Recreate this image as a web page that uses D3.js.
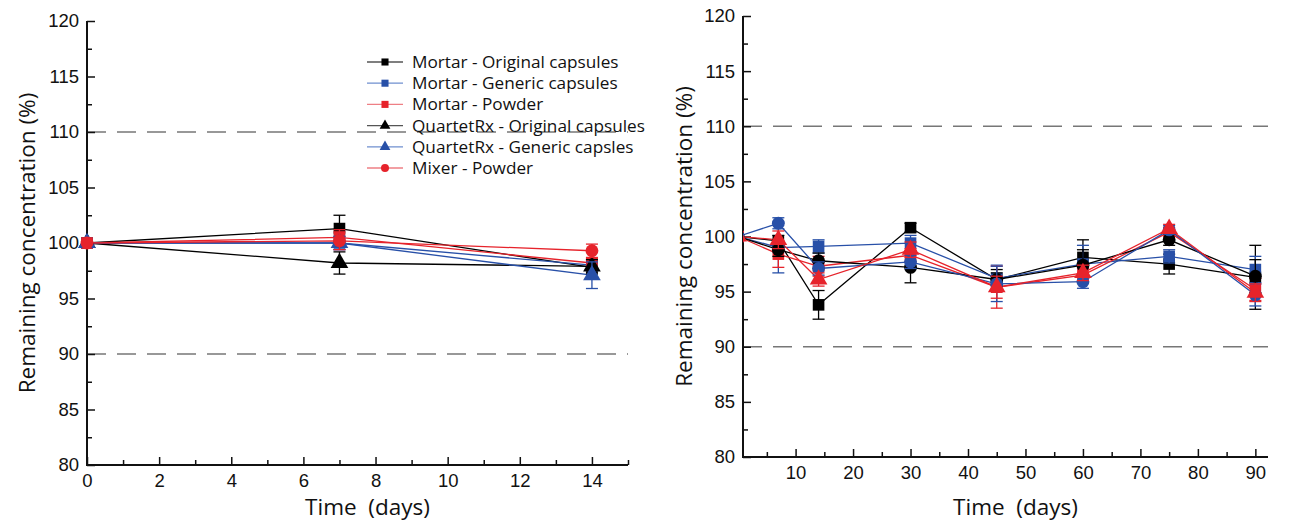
<!DOCTYPE html>
<html>
<head>
<meta charset="utf-8">
<script src="https://cdn.jsdelivr.net/npm/d3@7"></script>
<style>
  body { margin: 0; background: #fff; }
  svg { font-family: "Open Sans", "Noto Sans", sans-serif; }
  .tick text { font-size: 18.5px; fill: #111; }
  .axis-title { font-size: 22.5px; fill: #111; }
  .legend text { font-size: 17.2px; fill: #111; }
</style>
</head>
<body>
<svg id="chart" width="1292" height="525"></svg>
<script>
/* stability data, two panels */
const seriesNames = ['Mortar - Original capsules', 'Mortar - Generic capsules', 'Mortar - Powder',
                     'QuartetRx - Original capsules', 'QuartetRx - Generic capsles', 'Mixer - Powder'];
const colors = ['#000000', '#2850a8', '#e6232b', '#000000', '#2850a8', '#e6232b'];
const legendLine = ['#555555', '#6f8fcf', '#ee7f85', '#555555', '#6f8fcf', '#ee7f85'];

// left panel: 14 days
const daysA = [0, 7, 14];
const leftShapes = ['square', 'square', 'square', 'triangle', 'triangle', 'circle'];
const leftValues = [
    [100, 101.3, 97.8],
    [100, 100.0, 98.0],
    [100, 100.5, 98.2],
    [100, 98.2, 97.9],
    [100, 100.0, 97.1],
    [100, 100.2, 99.3]
];
const leftErr = [
    [0, 1.2, 0.6],
    [0, 0.6, 0.5],
    [0, 0.7, 0.4],
    [0, 1.0, 0.6],
    [0, 0.6, 1.2],
    [0, 0.8, 0.6]
];

// right panel: 90 days
const daysB = [0, 7, 14, 30, 45, 60, 75, 90];
const rightShapes = ['square', 'square', 'square', 'circle', 'circle', 'triangle'];
const rightValues = [
    [100, 99.6, 93.8, 100.8, 96.1, 98.1, 97.5, 96.3],
    [100, 99.0, 99.1, 99.4, 96.2, 97.5, 98.2, 97.0],
    [100, 98.4, 97.3, 98.3, 95.4, 96.5, 100.4, 95.2],
    [100, 98.8, 97.8, 97.2, 96.1, 97.4, 99.7, 96.4],
    [100, 101.2, 97.1, 97.7, 95.7, 95.9, 100.6, 94.7],
    [100, 99.7, 96.1, 98.8, 95.4, 96.7, 100.7, 94.9]
];
const rightErr = [
    [0, 0.5, 1.3, 0.4, 0.9, 1.6, 0.9, 2.9],
    [0, 2.3, 0.6, 0.7, 1.2, 1.7, 0.6, 1.2],
    [0, 1.2, 0.9, 0.6, 1.9, 0.6, 0.4, 1.0],
    [0, 0.6, 0.7, 1.4, 0.6, 1.4, 0.5, 1.5],
    [0, 0.5, 0.6, 0.6, 1.6, 0.6, 0.4, 1.0],
    [0, 0.8, 0.6, 0.7, 1.0, 0.7, 0.4, 0.8]
];

const limits = [90, 110];
const yMajor = [80, 85, 90, 95, 100, 105, 110, 115, 120];
const yMinor = [82.5, 87.5, 92.5, 97.5, 102.5, 107.5, 112.5, 117.5];

const svg = d3.select('#chart');

let symbolFor = (shape) => {
    if (shape === 'square') return d3.symbol().type(d3.symbolSquare).size(135);
    if (shape === 'triangle') return d3.symbol().type(d3.symbolTriangle).size(135);
    return d3.symbol().type(d3.symbolCircle).size(130);
};

let panel = (opt) => {
    let x = d3.scaleLinear().domain(opt.xDomain).range(opt.xRange);
    let y = d3.scaleLinear().domain([80, 120]).range(opt.yRange);
    let g = svg.append('g');

    // dashed limit lines
    g.selectAll('line.limit').data(limits).join('line').classed('limit', true)
        .attr('x1', opt.xRange[0]).attr('x2', opt.xRange[1])
        .attr('y1', d => y(d)).attr('y2', d => y(d))
        .attr('stroke', '#777').attr('stroke-width', 1.6).attr('stroke-dasharray', '19,11');

    // axes: majors with labels, minors without
    let xb = opt.yRange[0], yl = opt.xRange[0];
    g.append('g').attr('transform', `translate(0,${xb})`)
        .call(d3.axisBottom(x).tickValues(opt.xMajor).tickSize(-8).tickPadding(9).tickFormat(d3.format('d')))
        .call(a => a.select('.domain').remove());
    g.append('g').attr('transform', `translate(0,${xb})`)
        .call(d3.axisBottom(x).tickValues(opt.xMinor).tickSize(-5).tickFormat(''))
        .call(a => a.select('.domain').remove());
    g.append('g').attr('transform', `translate(${yl},0)`)
        .call(d3.axisLeft(y).tickValues(yMajor).tickSize(-8).tickPadding(8).tickFormat(d3.format('d')))
        .call(a => a.select('.domain').remove());
    g.append('g').attr('transform', `translate(${yl},0)`)
        .call(d3.axisLeft(y).tickValues(yMinor).tickSize(-5).tickFormat(''))
        .call(a => a.select('.domain').remove());
    g.selectAll('.tick line').attr('stroke', '#111').attr('stroke-width', 1.5);
    g.append('path').attr('d', `M${yl},${opt.yRange[1]}V${xb}H${opt.xRange[1]}`)
        .attr('fill', 'none').attr('stroke', '#111').attr('stroke-width', 2);

    // axis titles
    g.append('text').classed('axis-title', true).attr('text-anchor', 'middle')
        .attr('transform', `translate(${opt.titleX},${y(100)}) rotate(-90)`)
        .text('Remaining concentration (%)');
    g.append('text').classed('axis-title', true).attr('text-anchor', 'middle')
        .attr('x', (opt.xRange[0] + opt.xRange[1]) / 2 + 10).attr('y', 515)
        .attr('xml:space', 'preserve').text('Time  (days)');

    // data
    let data = g.append('g');
    if (opt.clip) {
        svg.append('clipPath').attr('id', opt.clip).append('rect')
            .attr('x', yl).attr('y', 0).attr('width', 600).attr('height', 525);
        data.attr('clip-path', `url(#${opt.clip})`);
    }
    let line = d3.line().x(d => x(d[0])).y(d => y(d[1]));
    opt.values.forEach((vals, s) => {
        let pts = vals.map((v, i) => [opt.days[i], v, opt.err[s][i]]);
        data.append('path').attr('d', line(pts)).attr('fill', 'none')
            .attr('stroke', colors[s]).attr('stroke-width', 1.3);
    });
    opt.values.forEach((vals, s) => {
        let pts = vals.map((v, i) => [opt.days[i], v, opt.err[s][i]]);
        let eb = data.append('g').attr('stroke', colors[s]).attr('stroke-width', 1.3);
        pts.filter(p => p[2] > 0).forEach(p => {
            eb.append('line').attr('x1', x(p[0])).attr('x2', x(p[0]))
                .attr('y1', y(p[1] - p[2])).attr('y2', y(p[1] + p[2]));
            [p[1] - p[2], p[1] + p[2]].forEach(e => {
                eb.append('line').attr('x1', x(p[0]) - 6).attr('x2', x(p[0]) + 6)
                    .attr('y1', y(e)).attr('y2', y(e));
            });
        });
        data.append('g').selectAll('path').data(pts).join('path')
            .attr('transform', p => `translate(${x(p[0])},${y(p[1])})`)
            .attr('d', symbolFor(opt.shapes[s])()).attr('fill', colors[s]);
    });
};

panel({ xDomain: [0, 15], xRange: [87, 628], yRange: [465, 21], titleX: 35,
        xMajor: [0, 2, 4, 6, 8, 10, 12, 14], xMinor: [1, 3, 5, 7, 9, 11, 13, 15],
        days: daysA, values: leftValues, err: leftErr, shapes: leftShapes });

panel({ xDomain: [0.85, 92.2], xRange: [743, 1268], yRange: [457, 16], titleX: 692,
        xMajor: [10, 20, 30, 40, 50, 60, 70, 80, 90], xMinor: [5, 15, 25, 35, 45, 55, 65, 75, 85],
        days: daysB, values: rightValues, err: rightErr, shapes: rightShapes, clip: 'clip-right' });

// legend in the left panel
let legend = svg.append('g').classed('legend', true);
const legendShapes = ['square', 'square', 'square', 'triangle', 'triangle', 'circle'];
seriesNames.forEach((name, i) => {
    let ly = 62 + i * 21.2;
    legend.append('line').attr('x1', 367).attr('x2', 403).attr('y1', ly).attr('y2', ly)
        .attr('stroke', legendLine[i]).attr('stroke-width', 1.3);
    legend.append('path').attr('transform', `translate(385,${ly})`)
        .attr('d', d3.symbol().type(legendShapes[i] === 'square' ? d3.symbolSquare
                 : legendShapes[i] === 'triangle' ? d3.symbolTriangle : d3.symbolCircle).size(50)())
        .attr('fill', colors[i]);
    legend.append('text').attr('x', 412).attr('y', ly + 6).text(name);
});
</script>
</body>
</html>
